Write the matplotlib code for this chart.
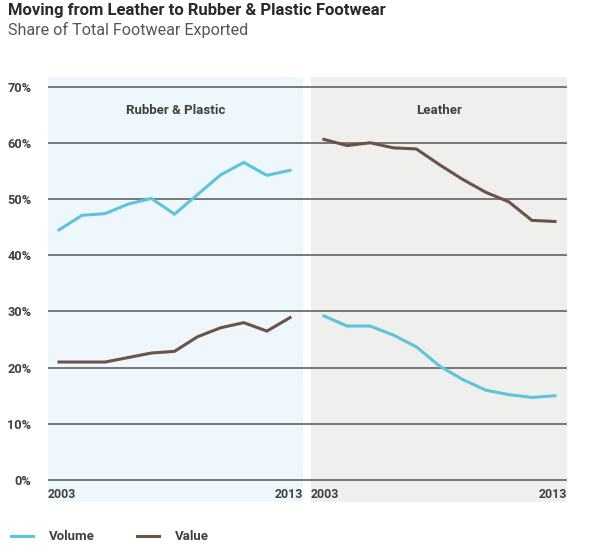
import matplotlib.pyplot as plt
from matplotlib.lines import Line2D

plt.rcParams['font.family'] = ['Roboto', 'DejaVu Sans']

years = list(range(2003, 2014))

# share of total footwear exported (%)
rubber_volume = [44.5, 47.1, 47.4, 49.1, 50.1, 47.3, 50.8, 54.3, 56.5, 54.2, 55.1]
rubber_value = [21.0, 21.0, 21.0, 21.8, 22.6, 22.9, 25.5, 27.1, 28.0, 26.5, 28.9]
leather_volume = [29.2, 27.4, 27.4, 25.8, 23.7, 20.3, 17.9, 16.0, 15.2, 14.7, 15.0]
leather_value = [60.6, 59.5, 60.0, 59.1, 58.9, 56.1, 53.5, 51.2, 49.5, 46.2, 46.0]

panel_names = ["Rubber & Plastic", "Leather"]
y_ticks = [0, 10, 20, 30, 40, 50, 60, 70]

vol_color = "#5ec4da"
val_color = "#6b5347"
txt_color = "#404040"

fig = plt.figure(figsize=(5.96, 5.52), dpi=100)
ax = fig.add_axes([48 / 596, 50 / 552, 519 / 596, 425 / 552])

# x positions: one unit per year, right panel shifted along
offset = 11.47
x_left = [y - years[0] for y in years]
x_right = [x + offset for x in x_left]
left_span = (-0.476, 10.56)
right_span = (10.91, 21.99)

ax.set_xlim(left_span[0], right_span[1])
ax.set_ylim(-3.9, 71.7)

ax.axvspan(*left_span, color="#eef7fb", zorder=0, lw=0)
ax.axvspan(*right_span, color="#efefee", zorder=0, lw=0)

for t in y_ticks:
    ax.axhline(t, color="#6e6e6e", lw=1.3, zorder=1)

for xs, ys, c in [(x_left, rubber_volume, vol_color), (x_left, rubber_value, val_color),
                  (x_right, leather_volume, vol_color), (x_right, leather_value, val_color)]:
    ax.plot(xs, ys, color=c, lw=2.2, zorder=3, solid_joinstyle="miter")

ax.set_yticks(y_ticks)
ax.set_yticklabels([f"{t}%" for t in y_ticks], fontsize=9.2, fontweight="bold", color=txt_color)
ax.tick_params(axis="y", length=0, pad=12)
ax.set_xticks([])
for s in ax.spines.values():
    s.set_visible(False)

# year labels at panel edges
for span in (left_span, right_span):
    ax.text(span[0], -2.6, str(years[0]), ha="left", va="center", fontsize=8.8,
            fontweight="bold", color=txt_color)
    ax.text(span[1], -2.6, str(years[-1]), ha="right", va="center", fontsize=8.8,
            fontweight="bold", color=txt_color)

for span, name in zip((left_span, right_span), panel_names):
    ax.text((span[0] + span[1]) / 2, 65.7, name, ha="center", va="center",
            fontsize=9.5, fontweight="bold", color=txt_color)

fig.text(8 / 596, 1 - 11 / 552, "Moving from Leather to Rubber & Plastic Footwear",
         ha="left", va="center", fontsize=12, fontweight="bold", color="#2a2a2a")
fig.text(8 / 596, 1 - 30 / 552, "Share of Total Footwear Exported",
         ha="left", va="center", fontsize=11.6, color="#555555")

handles = [Line2D([], [], color=vol_color, lw=2.2), Line2D([], [], color=val_color, lw=2.2)]
fig.legend(handles, ["Volume", "Value"], loc="center left",
           bbox_to_anchor=(4 / 596, 1 - 537 / 552), ncol=2, frameon=False,
           handlelength=1.7, handletextpad=1.2, columnspacing=3.2, borderpad=0,
           prop={"size": 9.5, "weight": "bold"}, labelcolor=txt_color)

fig.savefig("out.png", dpi=100, facecolor="white")
